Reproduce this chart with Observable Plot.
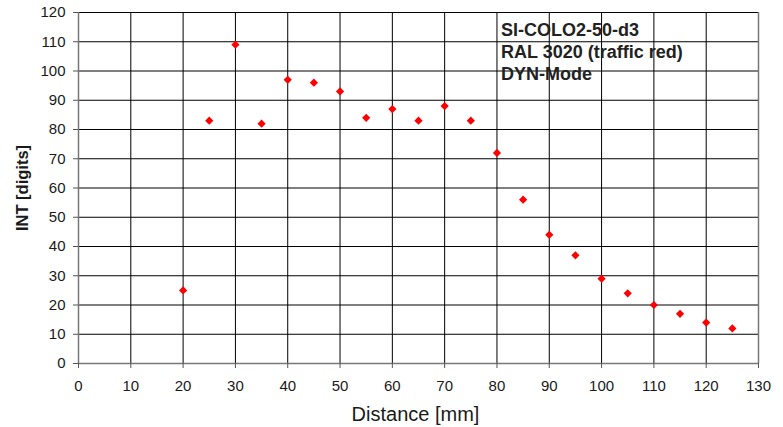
<!DOCTYPE html>
<html>
<head>
<meta charset="utf-8">
<script src="https://cdn.jsdelivr.net/npm/d3@7"></script>
<script src="https://cdn.jsdelivr.net/npm/@observablehq/plot@0.6"></script>
<style>
  body { margin: 0; background: #fff; font-family: "Liberation Sans", Arial, sans-serif; }
  #wrap { position: relative; width: 783px; height: 427px; }
  #note { position: absolute; left: 501px; top: 19px; font-family: "Liberation Sans", Arial, sans-serif; font-weight: bold; font-size: 18px; line-height: 22px; color: #222; white-space: nowrap; }
</style>
</head>
<body>
<div id="wrap">
  <div id="chart"></div>
  <div id="note"></div>
</div>
<script>
const distance = [20, 25, 30, 35, 40, 45, 50, 55, 60, 65, 70, 75, 80, 85, 90, 95, 100, 105, 110, 115, 120, 125];
const intensity = [25, 83, 109, 82, 97, 96, 93, 84, 87, 83, 88, 83, 72, 56, 44, 37, 29, 24, 20, 17, 14, 12];
const xTicks = [0, 10, 20, 30, 40, 50, 60, 70, 80, 90, 100, 110, 120, 130];
const yTicks = [0, 10, 20, 30, 40, 50, 60, 70, 80, 90, 100, 110, 120];
const noteLines = ["SI-COLO2-50-d3", "RAL 3020 (traffic red)", "DYN-Mode"];
const xTitle = "Distance [mm]";
const yTitle = "INT [digits]";

const data = distance.map((d, i) => ({distance: d, intensity: intensity[i]}));
const xEdges = [xTicks[0], xTicks[xTicks.length - 1]];

const chart = Plot.plot({
  width: 783,
  height: 427,
  marginLeft: 78,
  marginRight: 25,
  marginTop: 12,
  marginBottom: 64,
  style: {fontFamily: "'Liberation Sans', Arial, sans-serif", fontSize: "15px", color: "#1a1a1a", background: "#fff"},
  x: {domain: xEdges},
  y: {domain: [yTicks[0], yTicks[yTicks.length - 1]]},
  marks: [
    Plot.gridX(xTicks, {stroke: "#000", strokeOpacity: 1, strokeWidth: 1}),
    Plot.gridY(yTicks, {stroke: "#000", strokeOpacity: 1, strokeWidth: 1}),
    Plot.ruleX(xEdges, {stroke: "#777", strokeWidth: 1.5}),
    Plot.ruleY([yTicks[0]], {stroke: "#777", strokeWidth: 1.5}),
    Plot.axisX(xTicks, {tickSize: 5, tickPadding: 12, label: null, fontSize: 15, stroke: "#555"}),
    Plot.axisY(yTicks, {tickSize: 5, tickPadding: 8, label: null, fontSize: 15, stroke: "#555"}),
    Plot.text([xTitle], {frameAnchor: "bottom", text: d => d, dy: 57, dx: -3, lineAnchor: "bottom", fontSize: 20, fill: "#1a1a1a"}),
    Plot.text([yTitle], {frameAnchor: "left", text: d => d, dx: -56, rotate: -90, textAnchor: "middle", lineAnchor: "middle", fontSize: 16.5, fontWeight: "bold", fill: "#1a1a1a"}),
    Plot.dot(data, {x: "distance", y: "intensity", symbol: "diamond2", r: 3.7, fill: "#ff0000", stroke: "none"})
  ]
});
document.getElementById("chart").appendChild(chart);
document.getElementById("note").innerHTML = noteLines.map(s => `<div>${s}</div>`).join("");
</script>
</body>
</html>
